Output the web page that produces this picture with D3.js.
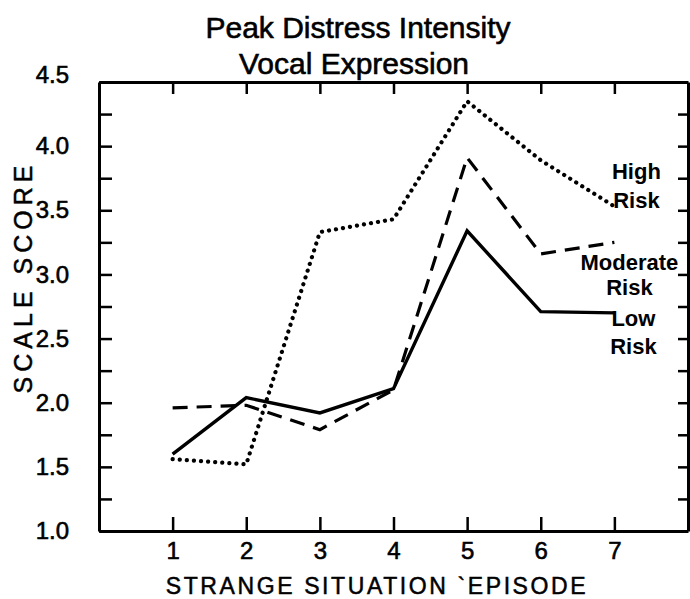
<!DOCTYPE html>
<html>
<head>
<meta charset="utf-8">
<script src="https://cdn.jsdelivr.net/npm/d3@7"></script>
<style>
  body { margin: 0; background: #fff; }
  text { font-family: "Liberation Sans", Arial, sans-serif; fill: #000; }
</style>
</head>
<body>
<svg id="chart"></svg>
<script>
const width = 690;
const height = 599;

// data
const episodes = [1, 2, 3, 4, 5, 6, 7];
const lowRisk = [1.60, 2.04, 1.92, 2.11, 3.34, 2.71, 2.70];
const moderateRisk = [1.96, 1.98, 1.79, 2.10, 3.91, 3.16, 3.25];
const highRisk = [1.56, 1.52, 3.33, 3.43, 4.35, 3.89, 3.53];
const yLabelTicks = [1.0, 1.5, 2.0, 2.5, 3.0, 3.5, 4.0, 4.5];
const yMinorTicks = [1.0, 1.25, 1.5, 1.75, 2.0, 2.25, 2.5, 2.75, 3.0, 3.25, 3.5, 3.75, 4.0, 4.25, 4.5];

const svg = d3.select('#chart')
    .attr('width', width)
    .attr('height', height);

// scales
const x = d3.scaleLinear().domain([0, 8]).range([99, 688]);
const y = d3.scaleLinear().domain([1, 4.5]).range([531, 82]);

// title
svg.append('text')
    .attr('text-anchor', 'middle')
    .attr('x', 358)
    .attr('y', 38)
    .attr('font-size', 30)
    .attr('stroke', '#000')
    .attr('stroke-width', 0.6)
    .text('Peak Distress Intensity');

svg.append('text')
    .attr('text-anchor', 'middle')
    .attr('x', 354)
    .attr('y', 74)
    .attr('font-size', 30)
    .attr('stroke', '#000')
    .attr('stroke-width', 0.6)
    .text('Vocal Expression');

// axes
const frame = svg.append('g').attr('class', 'frame');

const leftAxis = d3.axisLeft(y)
    .tickValues(yMinorTicks)
    .tickSizeInner(-13)
    .tickSizeOuter(0)
    .tickPadding(30)
    .tickFormat(d => yLabelTicks.includes(d) ? d3.format('.1f')(d) : '');

frame.append('g')
    .attr('transform', `translate(${x(0)},0)`)
    .call(leftAxis);

const rightAxis = d3.axisRight(y)
    .tickValues(yMinorTicks)
    .tickSizeInner(-10)
    .tickSizeOuter(0)
    .tickFormat('');

frame.append('g')
    .attr('transform', `translate(${x(8)},0)`)
    .call(rightAxis);

const topAxis = d3.axisTop(x)
    .tickValues(episodes)
    .tickSizeInner(-12)
    .tickSizeOuter(0)
    .tickFormat('');

frame.append('g')
    .attr('transform', `translate(0,${y(4.5)})`)
    .call(topAxis);

const bottomAxis = d3.axisBottom(x)
    .tickValues(episodes)
    .tickSizeInner(-14)
    .tickSizeOuter(0)
    .tickPadding(11)
    .tickFormat(d => String(d));

frame.append('g')
    .attr('transform', `translate(0,${y(1)})`)
    .call(bottomAxis);

frame.selectAll('.domain')
    .attr('stroke', '#000')
    .attr('stroke-width', 3);
frame.selectAll('.tick line')
    .attr('stroke', '#000')
    .attr('stroke-width', 2.5);
frame.selectAll('.tick text')
    .attr('font-size', 24)
    .attr('fill', '#000')
    .attr('stroke', '#000')
    .attr('stroke-width', 0.6)
    .attr('font-family', '"Liberation Sans", Arial, sans-serif');

// top label sits on the frame line
frame.selectAll('.tick text')
    .filter(d => d === 4.5)
    .attr('dy', '0')
    .attr('y', 0);

// axis titles
svg.append('text')
    .attr('text-anchor', 'middle')
    .attr('transform', 'translate(32,277) rotate(-90)')
    .attr('font-size', 25)
    .attr('letter-spacing', 5)
    .attr('stroke', '#000')
    .attr('stroke-width', 0.5)
    .text('SCALE SCORE');

svg.append('text')
    .attr('text-anchor', 'middle')
    .attr('x', 377)
    .attr('y', 594)
    .attr('font-size', 23)
    .attr('letter-spacing', 2.6)
    .attr('stroke', '#000')
    .attr('stroke-width', 0.5)
    .text('STRANGE SITUATION `EPISODE');

// lines
const line = d3.line()
    .x((d, i) => x(episodes[i]))
    .y(d => y(d));

svg.append('path')
    .datum(highRisk)
    .attr('fill', 'none')
    .attr('stroke', '#000')
    .attr('stroke-width', 4.2)
    .attr('stroke-linecap', 'round')
    .attr('stroke-dasharray', '0.1 7')
    .attr('d', line);

svg.append('path')
    .datum(moderateRisk)
    .attr('fill', 'none')
    .attr('stroke', '#000')
    .attr('stroke-width', 3.2)
    .attr('stroke-dasharray', '15 9')
    .attr('d', line);

svg.append('path')
    .datum(lowRisk)
    .attr('fill', 'none')
    .attr('stroke', '#000')
    .attr('stroke-width', 3.4)
    .attr('stroke-linejoin', 'miter')
    .attr('d', line);

// line labels
function label(values, dx, lines) {
    const last = values[values.length - 1];
    const g = svg.append('g')
        .attr('transform', `translate(${x(7) + dx},${y(last)})`);
    lines.forEach(l => {
        g.append('text')
            .attr('text-anchor', 'middle')
            .attr('font-size', 22)
            .attr('font-weight', 'bold')
            .attr('y', l[1])
            .text(l[0]);
    });
}

label(highRisk, 22, [['High', -27], ['Risk', 2]]);
label(moderateRisk, 15, [['Moderate', 28], ['Risk', 53]]);
label(lowRisk, 19, [['Low', 13], ['Risk', 41]]);
</script>
</body>
</html>
